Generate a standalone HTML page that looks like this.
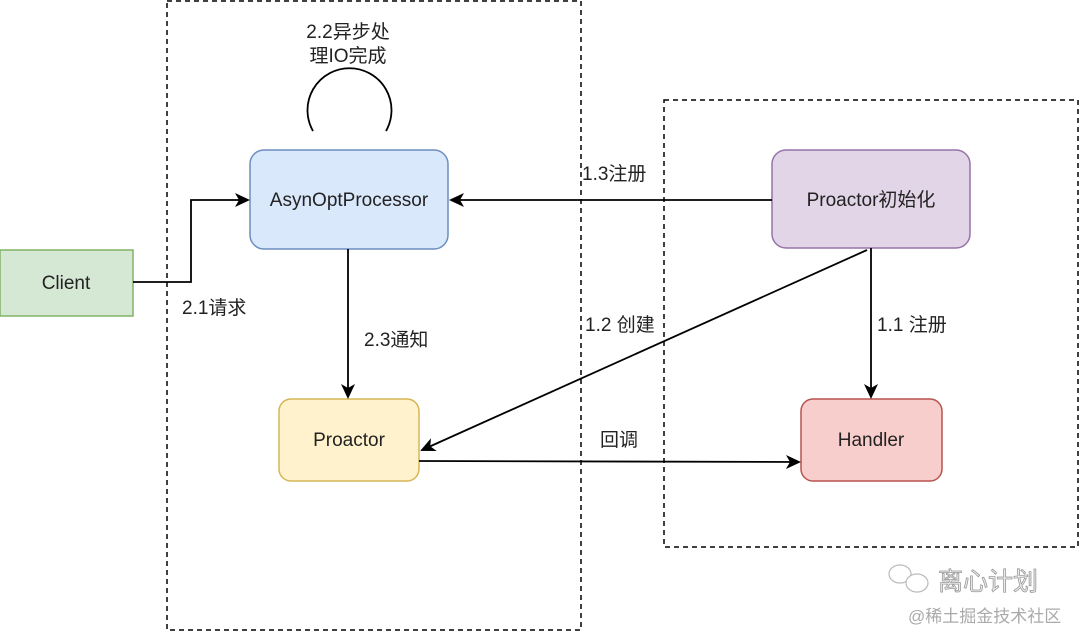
<!DOCTYPE html>
<html><head><meta charset="utf-8"><style>
html,body{margin:0;padding:0;background:#fff;}
svg{display:block;}
text{font-family:"Liberation Sans","Noto Sans CJK SC",sans-serif;font-size:19px;fill:#222;}
</style></head><body>
<svg width="1080" height="632" viewBox="0 0 1080 632" xmlns="http://www.w3.org/2000/svg">
<defs>
<marker id="a" markerWidth="16" markerHeight="16" refX="13" refY="8" orient="auto" markerUnits="userSpaceOnUse">
<path d="M0,1 L15,8 L0,15 L4,8 Z" fill="#000"/>
</marker>
</defs>
<rect x="167" y="1" width="414" height="629" fill="none" stroke="#000" stroke-width="1.5" stroke-dasharray="5,4"/>
<rect x="664" y="100" width="414" height="447" fill="none" stroke="#000" stroke-width="1.5" stroke-dasharray="5,4"/>

<path d="M313,131 A42,42 0 1 1 386,131" fill="none" stroke="#000" stroke-width="1.8"/>
<text x="348" y="38" text-anchor="middle">2.2异步处</text>
<text x="348" y="62" text-anchor="middle">理IO完成</text>

<rect x="0" y="250" width="133" height="66" fill="#d5e8d4" stroke="#82b366" stroke-width="1.5"/>
<text x="66" y="289" text-anchor="middle">Client</text>

<rect x="250" y="150" width="198" height="99" rx="14" fill="#dae8fc" stroke="#6c8ebf" stroke-width="1.5"/>
<text x="349" y="206" text-anchor="middle">AsynOptProcessor</text>

<rect x="279" y="399" width="140" height="82" rx="12" fill="#fff2cc" stroke="#d6b656" stroke-width="1.5"/>
<text x="349" y="446" text-anchor="middle">Proactor</text>

<rect x="772" y="150" width="198" height="98" rx="14" fill="#e1d5e7" stroke="#9673a6" stroke-width="1.5"/>
<text x="871" y="206" text-anchor="middle">Proactor初始化</text>

<rect x="801" y="399" width="141" height="82" rx="12" fill="#f8cecc" stroke="#b85450" stroke-width="1.5"/>
<text x="871" y="446" text-anchor="middle">Handler</text>

<g stroke="#000" stroke-width="1.8" fill="none">
<path d="M133,282 H191 V200 H248" marker-end="url(#a)"/>
<path d="M772,200 H451" marker-end="url(#a)"/>
<path d="M348,249 V397" marker-end="url(#a)"/>
<path d="M871,248 V397" marker-end="url(#a)"/>
<path d="M867,250 L422,450" marker-end="url(#a)"/>
<path d="M419,461 L799,462" marker-end="url(#a)"/>
</g>

<text x="182" y="314">2.1请求</text>
<text x="364" y="346">2.3通知</text>
<text x="582" y="180">1.3注册</text>
<text x="585" y="331">1.2 创建</text>
<text x="877" y="331">1.1 注册</text>
<text x="600" y="446">回调</text>

<g fill="#fff" stroke="#bbb" stroke-width="1.2">
<ellipse cx="900" cy="574" rx="11" ry="9"/>
<ellipse cx="917" cy="583" rx="11" ry="9"/>
</g>
<text x="938" y="590" style="font-size:25px;fill:#eee;stroke:#999;stroke-width:0.8">离心计划</text>
<text x="908" y="622" style="font-size:17px;fill:#aaa">@稀土掘金技术社区</text>
</svg>
</body></html>
